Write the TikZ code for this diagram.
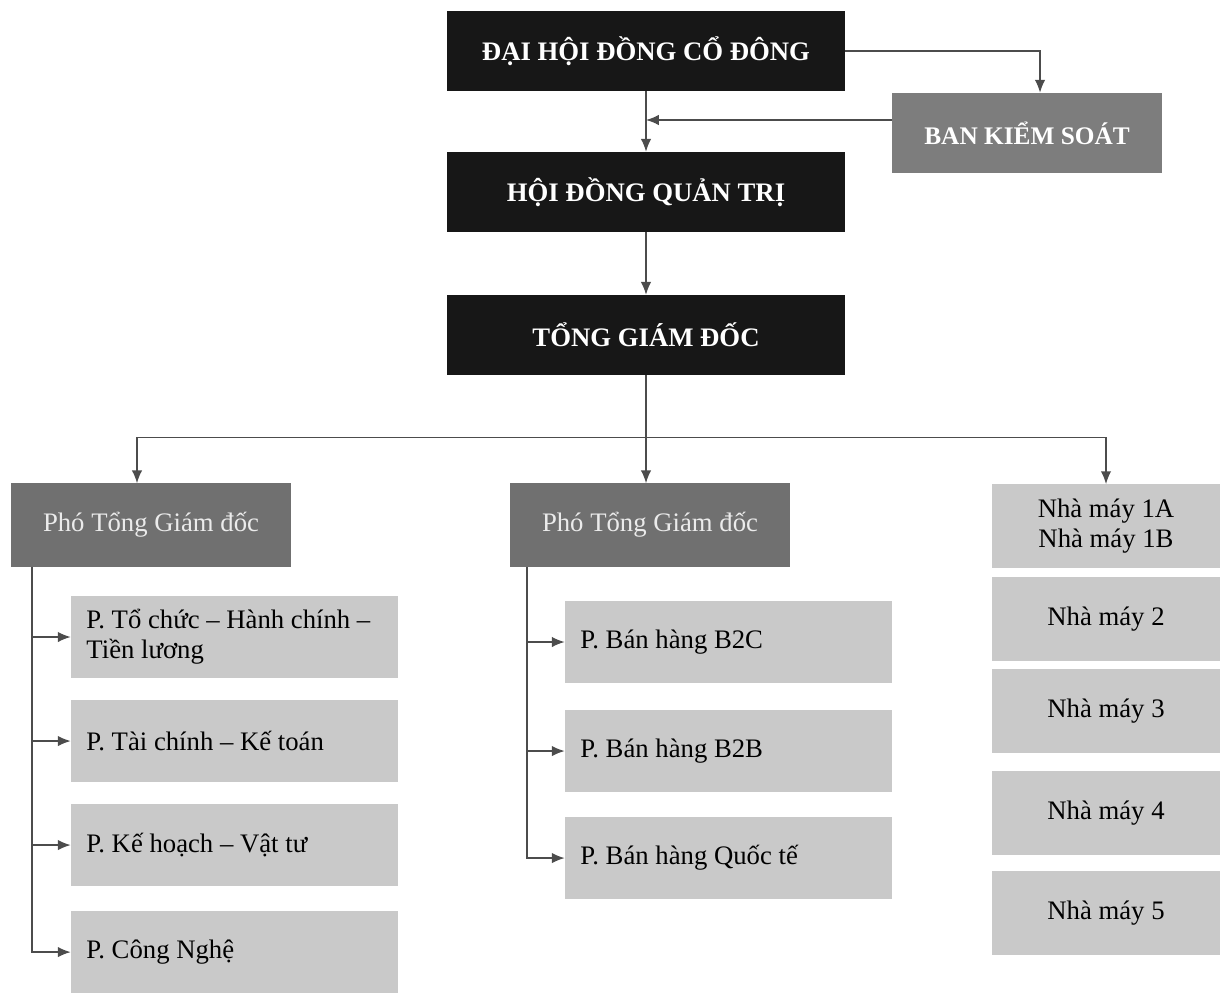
\documentclass[tikz,border=0pt]{standalone}
\usepackage{fontspec}
\setmainfont{Liberation Serif}
\usepackage{tikz}
\usetikzlibrary{calc, arrows.meta}
\definecolor{boarddark}{rgb}{0.09, 0.09, 0.09}
\definecolor{auditgrey}{rgb}{0.49, 0.49, 0.49}
\definecolor{deputygrey}{rgb}{0.44, 0.44, 0.44}
\definecolor{deptgrey}{rgb}{0.79, 0.79, 0.79}
\definecolor{linkgrey}{rgb}{0.3, 0.3, 0.3}

\begin{document}
\begin{tikzpicture}[x=0.025cm, y=-0.025cm,
    every node/.style={rectangle, inner sep=1mm, font=\fontsize{19}{21.5}\selectfont},
    top/.style={fill=boarddark, text=white, font=\fontsize{19}{21.5}\selectfont\bfseries, minimum width=9.95cm, minimum height=2cm},
    audit/.style={fill=auditgrey, text=white, font=\fontsize{18}{21}\selectfont\bfseries, minimum width=6.725cm, minimum height=2cm},
    deputy/.style={fill=deputygrey, text=white!92!black, minimum width=6.975cm, minimum height=2.075cm},
    dept/.style={fill=deptgrey, text width=7.4cm, inner xsep=0.3875cm, align=flush left, minimum height=2.05cm},
    plant/.style={fill=deptgrey, minimum width=5.675cm, minimum height=2.08cm, align=center},
    arr/.style={draw=linkgrey, line width=1pt, -{Latex[length=3.2mm, width=2.6mm]}},
    link/.style={draw=linkgrey, line width=1pt}]
            \useasboundingbox (0,0) rectangle (1220,992);
            \node[top] (dh) at (646,51) {ĐẠI HỘI ĐỒNG CỔ ĐÔNG};
            \node[top] (hd) [below of = dh, node distance=3.525cm] {HỘI ĐỒNG QUẢN TRỊ};
            \node[top] (tgd) [below of = hd, node distance=3.575cm] {TỔNG GIÁM ĐỐC};
            \node[audit] (bks) at (1027,133) {BAN KIỂM SOÁT};
            \node[deputy] (p1) at (151,525) {Phó Tổng Giám đốc};
            \node[deputy] (p2) at (650,525) {Phó Tổng Giám đốc};
            \node[plant] (nm1) at (1106,526) {Nhà máy 1A\\Nhà máy 1B};
            \node[plant] (nm2) at (1106,619) {Nhà máy 2};
            \node[plant] (nm3) at (1106,711) {Nhà máy 3};
            \node[plant] (nm4) at (1106,813) {Nhà máy 4};
            \node[plant] (nm5) at (1106,913) {Nhà máy 5};
            \node[dept] (tc) at (234.5,637) {P. Tổ chức – Hành chính –\\Tiền lương};
            \node[dept] (tk) [below of = tc, node distance=2.6cm] {P. Tài chính – Kế toán};
            \node[dept] (kh) [below of = tk, node distance=2.6cm] {P. Kế hoạch – Vật tư};
            \node[dept] (cn) [below of = kh, node distance=2.675cm] {P. Công Nghệ};
            \node[dept] (b2c) at (728.5,642) {P. Bán hàng B2C};
            \node[dept] (b2b) [below of = b2c, node distance=2.725cm] {P. Bán hàng B2B};
            \node[dept] (qt) [below of = b2b, node distance=2.675cm] {P. Bán hàng Quốc tế};
            \coordinate (ks) at ([yshift=3.25mm]bks.west);
            \coordinate (bus) at ([yshift=-1.55cm]tgd.south);
            \coordinate (lv) at ([xshift=5.25mm]p1.south west);
            \coordinate (mv) at ([xshift=4.25mm]p2.south west);
            \draw[arr] (dh.east) -| ([xshift=3.25mm]bks.north);
            \draw[arr] (ks) -- (ks -| dh.south);
            \draw[arr] (dh) -- (hd);
            \draw[arr] (hd) -- (tgd);
            \draw[link] (tgd) -- (bus);
            \draw[arr] (bus) -| ([xshift=-3.5mm]p1.north);
            \draw[arr] (bus) -- (bus |- p2.north);
            \draw[arr] (bus) -| (nm1.north);
            \draw[arr] (lv) |- (cn.west);
            \foreach \d in {tc,tk,kh}
                \draw[arr] (lv |- \d.west) -- (\d.west);
            \draw[arr] (mv) |- (qt.west);
            \foreach \d in {b2c,b2b}
                \draw[arr] (mv |- \d.west) -- (\d.west);
        \end{tikzpicture}
\end{document}
